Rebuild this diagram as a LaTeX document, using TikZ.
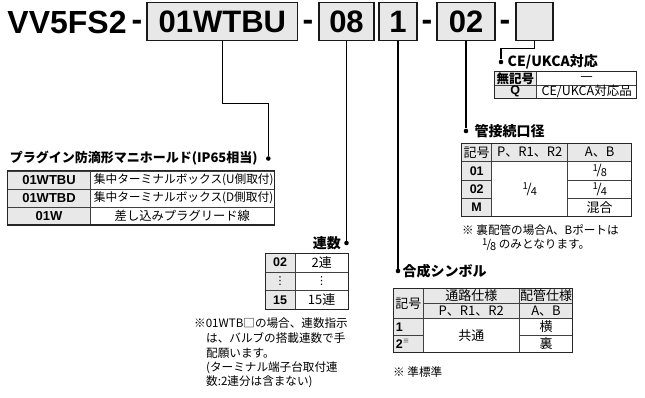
\documentclass[tikz,border=0pt]{standalone}
\usepackage{fontspec}
\setmainfont{Noto Sans CJK JP}
\newfontfamily\hv{Liberation Sans}
\newfontfamily\dv{DejaVu Sans}
\usetikzlibrary{positioning}

\newcommand{\frc}[2]{\raisebox{0.5ex}{\fontsize{9.5}{9.5}\selectfont #1}\kern-0.08em/\kern-0.08em\raisebox{-0.3ex}{\fontsize{11}{11}\selectfont #2}}
\newcommand{\jun}{\raisebox{0.8ex}{\rmfamily\mdseries\fontsize{6.5}{6.5}\selectfont ※}}

\begin{document}
\begin{tikzpicture}[
    x=1pt, y=-1pt,
    hdr/.style={font=\hv\bfseries\fontsize{32}{32}\selectfont, inner sep=0, anchor=base},
    codebox/.style={draw=black!90, line width=1.1pt, fill=black!9, minimum height=38, inner sep=0, font=\hv\bfseries\fontsize{31}{31}\selectfont},
    jdot/.style={circle, fill, inner sep=0, minimum size=4.6},
    conn/.style={line width=1.1pt},
    ttl/.style={font=\bfseries\fontsize{14}{14}\selectfont, inner sep=0},
    cell/.style={draw=black!75, line width=0.6pt, inner sep=0, font=\fontsize{13}{13}\selectfont},
    gcell/.style={cell, fill=black!9},
    code/.style={font=\hv\bfseries\fontsize{12.5}{12.5}\selectfont},
    outer/.style={draw=black!85, line width=1pt},
    note/.style={font=\fontsize{11.6}{11.6}\selectfont, inner sep=0, anchor=west}
  ]
  \useasboundingbox (0,0) rectangle (645,398);

  \node[hdr] (vv) at (67,33.3) {VV5FS2};
  \node[hdr] (h1) at (137,31) {-};
  \node[codebox, minimum width=150.7] (b1) at (222.3,21.7) {01WTBU};
  \node[hdr] (h2) at (308,31) {-};
  \node[codebox, minimum width=55] (b2) at (346.5,21.7) {08};
  \node[codebox, minimum width=38] (b3) at (398,21.7) {1};
  \node[hdr] (h3) at (427,31) {-};
  \node[codebox, minimum width=58] (b4) at (466,21.7) {02};
  \node[hdr] (h4) at (505,31) {-};
  \node[codebox, minimum width=37] (b5) at (534.5,21.7) {};

  \node[jdot] (d1) at (268.3,158.5) {};
  \node[jdot] (d2) at (346.5,243) {};
  \node[jdot] (d3) at (398,271) {};
  \node[jdot] (d4) at (466,131) {};
  \node[jdot] (d5) at (501,62) {};
  \node[ttl, left=8pt of d1, font=\bfseries\fontsize{13}{13}\selectfont] (t1) {プラグイン防滴形マニホールド(IP65相当)};
  \node[ttl, left=3pt of d2] (t2) {連数};
  \node[ttl, right=2pt of d3] (t3) {合成シンボル};
  \node[ttl, right=6pt of d4] (t4) {管接続口径};
  \node[ttl, right=4pt of d5] (t5) {CE/UKCA対応};

  \draw[conn] (b1.south) -- ++(0,62) -| (d1);
  \draw[conn] (b2.south) -- (d2);
  \draw[conn] (b3.south) -- (d3);
  \draw[conn] (b4.south) -- (d4);
  \draw[conn] (b5.south) -- ++(0,7.3) -| (d5);

  \foreach \c/\y in {01WTBU/180,01WTBD/198,01W/216}
    \node[gcell, code, minimum width=83.4, minimum height=18, font=\hv\bfseries\fontsize{13}{13}\selectfont] (p\c) at (49,\y) {\c};
  \node[cell, minimum width=183.3, minimum height=18, text width=177, align=left, font=\fontsize{11.7}{11.7}\selectfont] (pu) at (182.35,180) {集中ターミナルボックス(U側取付)};
  \node[cell, minimum width=183.3, minimum height=18, text width=177, align=left, font=\fontsize{11.7}{11.7}\selectfont] (pd) at (182.35,198) {集中ターミナルボックス(D側取付)};
  \node[cell, minimum width=183.3, minimum height=18, font=\fontsize{12.3}{12.3}\selectfont] (pl) at (182.35,216) {差し込みプラグリード線};
  \draw[outer] (7.3,171) rectangle (274,225);

  \node[gcell, code, minimum width=30, minimum height=18.7] (r02) at (280,262.65) {02};
  \node[cell, minimum width=53.3, minimum height=18.7] (r2) at (321.65,262.65) {2連};
  \node[gcell, minimum width=30, minimum height=18.7, font=\dv\fontsize{11}{11}\selectfont] (rdg) at (280,281.35) {⋮};
  \node[cell, minimum width=53.3, minimum height=18.7, font=\dv\fontsize{11}{11}\selectfont] (rdw) at (321.65,281.35) {⋮};
  \node[gcell, code, minimum width=30, minimum height=18.7] (r15) at (280,300) {15};
  \node[cell, minimum width=53.3, minimum height=18.7] (r15w) at (321.65,300) {15連};
  \draw[outer] (265,253.3) rectangle (348.3,309.3);
  \node[note] (n1) at (194,323) {※01WTB□の場合、連数指示};
  \node[note] (n2) at (206,338) {は、バルブの搭載連数で手};
  \node[note] (n3) at (206,353) {配願います。};
  \node[note] (n4) at (206,368) {(ターミナル端子台取付連};
  \node[note] (n5) at (206,382) {数:2連分は含まない)};

  \node[gcell, minimum width=30, minimum height=30] (gk) at (408.3,303.3) {記号};
  \node[gcell, minimum width=96, minimum height=15] (gt) at (471.3,295.8) {通路仕様};
  \node[gcell, minimum width=53.4, minimum height=15] (gh) at (546,295.8) {配管仕様};
  \node[gcell, minimum width=96, minimum height=15] (gp) at (471.3,310.8) {P、R1、R2};
  \node[gcell, minimum width=53.4, minimum height=15] (ga) at (546,310.8) {A、B};
  \node[gcell, code, minimum width=30, minimum height=17, text width=25, align=left] (g1) at (408.3,326.8) {1};
  \node[gcell, code, minimum width=30, minimum height=17, text width=25, align=left] (g2) at (408.3,343.8) {2\jun};
  \node[cell, minimum width=96, minimum height=34] (gc) at (471.3,335.3) {共通};
  \node[cell, minimum width=53.4, minimum height=17] (gy) at (546,326.8) {横};
  \node[cell, minimum width=53.4, minimum height=17] (gu) at (546,343.8) {裏};
  \draw[outer] (393.3,288.3) rectangle (572.7,352.3);
  \node[note] (n6) at (393,372) {※ 準標準};

  \node[gcell, minimum width=30, minimum height=18.4] (kk) at (476.7,152.5) {記号};
  \node[gcell, minimum width=76, minimum height=18.4] (kp) at (529.7,152.5) {P、R1、R2};
  \node[gcell, minimum width=64, minimum height=18.4] (ka) at (599.7,152.5) {A、B};
  \foreach \c/\y in {01/170.85,02/189.15,M/207.5}
    \node[gcell, code, minimum width=30, minimum height=18.3] (k\c) at (476.7,\y) {\c};
  \node[cell, minimum width=76, minimum height=55] (kq) at (529.7,189.2) {\frc14};
  \node[cell, minimum width=64, minimum height=18.3] (k8) at (599.7,170.85) {\frc18};
  \node[cell, minimum width=64, minimum height=18.3] (k4) at (599.7,189.15) {\frc14};
  \node[cell, minimum width=64, minimum height=18.3] (km) at (599.7,207.5) {混合};
  \draw[outer] (461.7,143.3) rectangle (631.7,216.7);
  \node[note] (n7) at (462,230) {※ 裏配管の場合A、Bポートは};
  \node[note] (n8) at (482,245) {\frc18 のみとなります。};

  \node[gcell, minimum width=42.7, minimum height=13.3, font=\bfseries\fontsize{12.5}{12.5}\selectfont] (cn) at (515.35,78.35) {無記号};
  \node[cell, minimum width=100, minimum height=13.3, font=\dv\fontsize{12.5}{12.5}\selectfont] (cd) at (586.7,78.35) {—};
  \node[gcell, code, minimum width=42.7, minimum height=13.3] (cq) at (515.35,91.65) {Q};
  \node[cell, minimum width=100, minimum height=13.3, font=\fontsize{12.5}{12.5}\selectfont] (cp) at (586.7,91.65) {CE/UKCA対応品};
  \draw[outer] (494,71.7) rectangle (636.7,98.3);
\end{tikzpicture}
\end{document}
